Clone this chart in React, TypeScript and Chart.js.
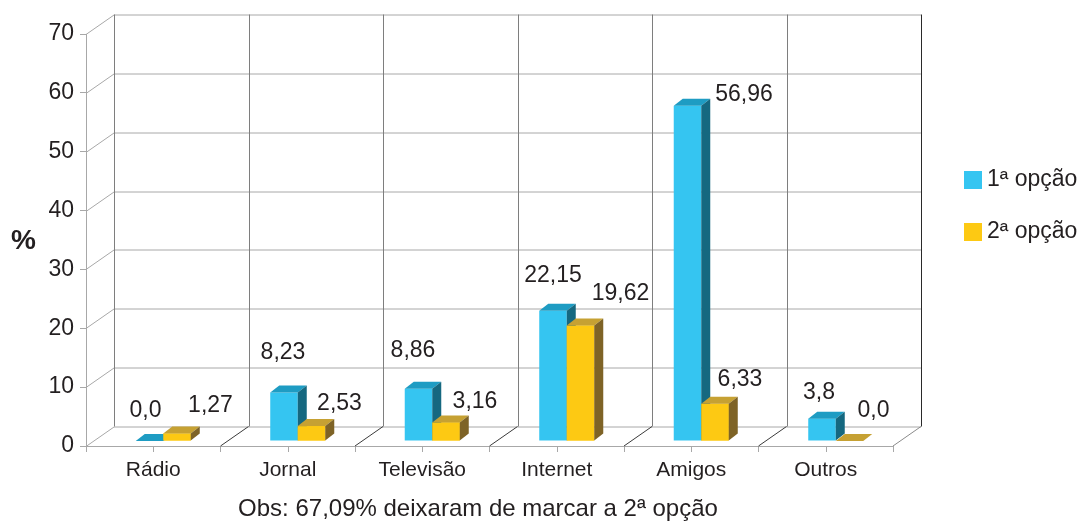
import { useEffect, useRef } from 'react';
import { Chart, registerables } from 'chart.js';

Chart.register(...registerables);

// ---- data ----
const categories = ['Rádio', 'Jornal', 'Televisão', 'Internet', 'Amigos', 'Outros'];
const firstOption = [0.0, 8.23, 8.86, 22.15, 56.96, 3.8];
const secondOption = [1.27, 2.53, 3.16, 19.62, 6.33, 0.0];
const firstLabels = ['0,0', '8,23', '8,86', '22,15', '56,96', '3,8'];
const secondLabels = ['1,27', '2,53', '3,16', '19,62', '6,33', '0,0'];
const seriesNames = ['1ª opção', '2ª opção'];
const yMin = 0;
const yMax = 70;
const yStep = 10;
const yTitle = '%';
const note = 'Obs: 67,09% deixaram de marcar a 2ª opção';

// ---- style ----
const FONT = "'Liberation Sans', Arial, Helvetica, sans-serif";
const TEXT = '#231F20';
const GRID = '#A8A8A8';
const COLORS = [
  { front: '#35C5F1', top: '#1E9CC3', side: '#156880' },
  { front: '#FDC913', top: '#C6A133', side: '#7E6326' },
];
const DEPTH_X = 28;
const DEPTH_Y = -19.5;
const BAR_SHIFT_X = 10;
const BAR_SHIFT_Y = -5;
const BAR_DX = 9;
const BAR_DY = -7;
// label offsets from the top-centre of each bar
const labelOffsets = [
  [[-4, -30], [-1, -40], [-5.5, -38], [0, -35], [56.5, -11], [-3, -26]],
  [[33.5, -27.5], [28, -22], [29, -21], [40, -31.5], [25, -24], [24, -30]],
];

function poly(ctx: CanvasRenderingContext2D, pts: number[][], color: string) {
  ctx.beginPath();
  ctx.moveTo(pts[0][0], pts[0][1]);
  for (let i = 1; i < pts.length; i++) ctx.lineTo(pts[i][0], pts[i][1]);
  ctx.closePath();
  ctx.fillStyle = color;
  ctx.fill();
}

function box(el: any) {
  const p = el.getProps(['x', 'y', 'base', 'width'], true);
  const l = p.x - p.width / 2;
  const r = p.x + p.width / 2;
  const t = Math.min(p.y, p.base);
  const b = Math.max(p.y, p.base);
  return { l, r, t, b, cx: p.x };
}

function drawFaces(ctx: CanvasRenderingContext2D, el: any, c: { top: string; side: string }) {
  const { l, r, t, b } = box(el);
  poly(ctx, [[l, t], [l + BAR_DX, t + BAR_DY], [r + BAR_DX, t + BAR_DY], [r, t]], c.top);
  poly(ctx, [[r, t], [r + BAR_DX, t + BAR_DY], [r + BAR_DX, b + BAR_DY], [r, b]], c.side);
}

function line(ctx: CanvasRenderingContext2D, pts: number[][], color: string) {
  ctx.beginPath();
  ctx.moveTo(pts[0][0], pts[0][1]);
  for (let i = 1; i < pts.length; i++) ctx.lineTo(pts[i][0], pts[i][1]);
  ctx.strokeStyle = color;
  ctx.lineWidth = 1;
  ctx.stroke();
}

const threeD = {
  id: 'threeD',
  beforeDatasetsDraw(chart: any) {
    const { ctx, chartArea, scales } = chart;
    const { left, right, top, bottom } = chartArea;
    const x = scales.x;
    const y = scales.y;
    const n = categories.length;
    const step = x.getPixelForValue(1) - x.getPixelForValue(0);
    ctx.save();
    // horizontal grid lines: side wall + back wall
    for (let v = yMin; v <= yMax; v += yStep) {
      const py = Math.round(y.getPixelForValue(v)) + 0.5;
      line(ctx, [[left, py], [left + DEPTH_X, py + DEPTH_Y], [right + DEPTH_X, py + DEPTH_Y]], GRID);
    }
    // back wall verticals
    for (let k = 0; k <= n; k++) {
      const bx = Math.round(left + k * step + DEPTH_X) + 0.5;
      line(ctx, [[bx, top + DEPTH_Y], [bx, bottom + DEPTH_Y]], k === n ? '#2A2A2A' : '#7E7E7E');
    }
    // floor depth lines
    for (let k = 1; k <= n; k++) {
      const fx = left + k * step;
      line(ctx, [[fx, bottom], [fx + DEPTH_X, bottom + DEPTH_Y]], k === n ? '#8A8A8A' : '#3A3A3A');
    }
    ctx.restore();
    ctx.save();
    ctx.translate(BAR_SHIFT_X, BAR_SHIFT_Y);
  },
  afterDatasetsDraw(chart: any) {
    const { ctx } = chart;
    const m0 = chart.getDatasetMeta(0);
    const m1 = chart.getDatasetMeta(1);
    for (let i = 0; i < categories.length; i++) {
      const e0 = m0.data[i];
      const e1 = m1.data[i];
      drawFaces(ctx, e0, COLORS[0]);
      const b1 = box(e1);
      ctx.fillStyle = COLORS[1].front;
      ctx.fillRect(b1.l, b1.t, b1.r - b1.l, b1.b - b1.t);
      drawFaces(ctx, e1, COLORS[1]);
    }
    // data labels
    ctx.font = `23px ${FONT}`;
    ctx.fillStyle = TEXT;
    ctx.textAlign = 'center';
    ctx.textBaseline = 'middle';
    [m0, m1].forEach((meta: any, d: number) => {
      const texts = d === 0 ? firstLabels : secondLabels;
      meta.data.forEach((el: any, i: number) => {
        const b = box(el);
        const [ox, oy] = labelOffsets[d][i];
        ctx.fillText(texts[i], b.cx + ox, b.t + oy);
      });
    });
    ctx.restore();
  },
  afterDraw(chart: any) {
    const { ctx, chartArea, scales } = chart;
    const x = scales.x;
    ctx.save();
    // centre ticks on the floor edge
    for (let i = 0; i < categories.length; i++) {
      const px = Math.round(x.getPixelForValue(i)) + 0.5;
      line(ctx, [[px, chartArea.bottom], [px, chartArea.bottom + 6]], GRID);
    }
    ctx.fillStyle = TEXT;
    ctx.textBaseline = 'middle';
    // y title
    ctx.font = `bold 28px ${FONT}`;
    ctx.textAlign = 'center';
    ctx.fillText(yTitle, 23.5, 241);
    // note
    ctx.font = `24px ${FONT}`;
    ctx.fillText(note, 478, 509);
    // legend
    ctx.textAlign = 'left';
    ctx.font = `23px ${FONT}`;
    seriesNames.forEach((name, i) => {
      const sy = 171 + i * 52;
      ctx.fillStyle = COLORS[i].front;
      ctx.fillRect(964, sy, 18, 18);
      ctx.fillStyle = TEXT;
      ctx.fillText(name, 987, sy + 9);
    });
    ctx.restore();
  },
};

export default function App() {
  const ref = useRef<HTMLCanvasElement>(null);
  useEffect(() => {
    document.body.style.margin = '0';
    const chart = new Chart(ref.current as HTMLCanvasElement, {
      type: 'bar',
      data: {
        labels: categories,
        datasets: [
          {
            label: seriesNames[0],
            data: firstOption,
            backgroundColor: COLORS[0].front,
            borderWidth: 0,
            categoryPercentage: 0.409,
            barPercentage: 1,
          },
          {
            label: seriesNames[1],
            data: secondOption,
            backgroundColor: COLORS[1].front,
            borderWidth: 0,
            categoryPercentage: 0.409,
            barPercentage: 1,
          },
        ],
      },
      options: {
        animation: false,
        responsive: true,
        maintainAspectRatio: false,
        layout: { padding: { top: 34, right: 190, bottom: 0, left: 0 } },
        font: { family: FONT },
        plugins: {
          legend: { display: false },
          tooltip: { enabled: false },
        },
        scales: {
          x: {
            offset: true,
            grid: { drawOnChartArea: false, color: GRID, tickLength: 6, offset: true },
            border: { color: GRID },
            ticks: {
              color: TEXT,
              font: { size: 21, family: FONT },
              padding: 6,
              maxRotation: 0,
              autoSkip: false,
            },
            afterFit: (s: any) => {
              s.height = 75;
            },
          },
          y: {
            min: yMin,
            max: yMax,
            grid: { drawOnChartArea: false, color: GRID, tickLength: 6 },
            border: { color: GRID },
            ticks: {
              stepSize: yStep,
              color: TEXT,
              font: { size: 23, family: FONT },
              padding: 6,
            },
            afterFit: (s: any) => {
              s.width = 86;
            },
          },
        },
      } as any,
      plugins: [threeD],
    });
    return () => chart.destroy();
  }, []);
  return (
    <div style={{ position: 'fixed', left: 0, top: 0, width: 1083, height: 521 }}>
      <canvas ref={ref} />
    </div>
  );
}
